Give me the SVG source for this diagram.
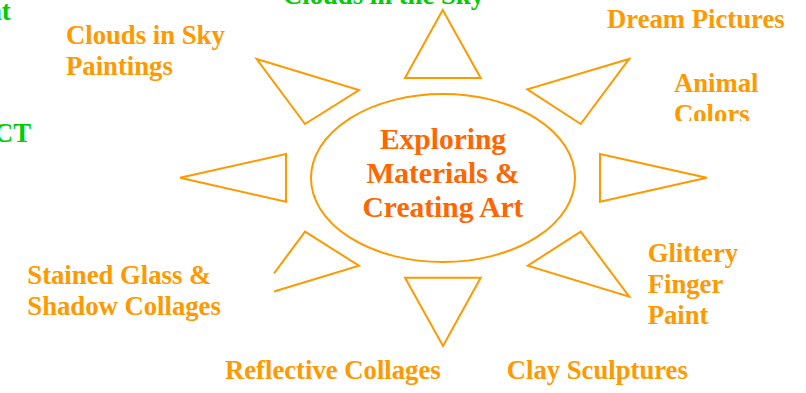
<svg xmlns="http://www.w3.org/2000/svg" width="806" height="393" viewBox="0 0 806 393">
<style>
  .ray { fill: none; stroke: #FF9900; stroke-width: 2; stroke-linejoin: miter; }
  .lbl { font-family: "Liberation Serif", "Times New Roman", serif; font-weight: bold; font-size: 26.7px; fill: #FF9900; }
  .ctr { font-family: "Liberation Serif", "Times New Roman", serif; font-weight: bold; font-size: 29.5px; fill: #FF6600; text-anchor: middle; }
  .grn { font-family: "Liberation Serif", "Times New Roman", serif; font-weight: bold; font-size: 26.7px; fill: #00CC00; }
</style>
<defs>
  <clipPath id="clipAnimal"><rect x="600" y="50" width="206" height="71"/></clipPath>
</defs>
<rect width="806" height="393" fill="#FFFFFF"/>

<g id="connectors">
  <polygon class="ray" points="442.7,10 405,78 480.7,78"/>
  <polygon class="ray" points="256.7,59 359,90 305,124"/>
  <polygon class="ray" points="629,59 527.3,89.3 580.7,124"/>
  <polygon class="ray" points="180,177.7 286,154 286,201.7"/>
  <polygon class="ray" points="706.7,177.7 600,154 600,201.7"/>
  <polygon class="ray" points="580.7,231.7 527.7,265.7 629.3,296.7"/>
  <polygon class="ray" points="405,277.7 480.7,277.7 443,346"/>
  <polyline class="ray" points="274,273.4 305,231.7 359,265.7 274,291.5"/>
</g>

<g id="center">
  <ellipse cx="443" cy="178" rx="132" ry="84" fill="none" stroke="#FF9900" stroke-width="2"/>
  <text class="ctr" x="443" y="149">Exploring</text>
  <text class="ctr" x="443" y="183">Materials &amp;</text>
  <text class="ctr" x="443" y="217">Creating Art</text>
</g>

<g id="clouds-sky-paintings">
  <text class="lbl" x="66" y="44">Clouds in Sky</text>
  <text class="lbl" x="66" y="75">Paintings</text>
</g>
<g id="dream-pictures">
  <text class="lbl" x="607" y="27.5">Dream Pictures</text>
</g>
<g id="animal-colors" clip-path="url(#clipAnimal)">
  <text class="lbl" x="674" y="91.7">Animal</text>
  <text class="lbl" x="674" y="122.7">Colors</text>
</g>
<g id="glittery-finger-paint">
  <text class="lbl" x="647.7" y="261.7">Glittery</text>
  <text class="lbl" x="647.7" y="293">Finger</text>
  <text class="lbl" x="647.7" y="324">Paint</text>
</g>
<g id="stained-glass">
  <text class="lbl" x="27.3" y="284">Stained Glass &amp;</text>
  <text class="lbl" x="27.3" y="315">Shadow Collages</text>
</g>
<g id="reflective-collages">
  <text class="lbl" x="225" y="379">Reflective Collages</text>
</g>
<g id="clay-sculptures">
  <text class="lbl" x="506.7" y="379">Clay Sculptures</text>
</g>
<g id="green-texts">
  <text class="grn" x="283" y="4">Clouds in the Sky</text>
  <text class="grn" x="-13" y="20">nt</text>
  <text class="grn" x="-6" y="141.7">CT</text>
</g>
</svg>
